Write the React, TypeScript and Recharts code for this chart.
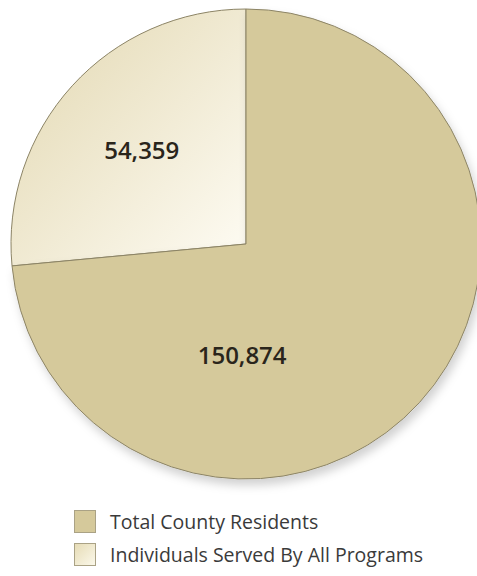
import React from "react"
import { PieChart, Pie, Cell, Legend } from "recharts"

const names = ["Individuals Served By All Programs", "Total County Residents"]
const values = [54359, 150874]
const legendOrder = [1, 0]

const data = names.map((name, i) => ({ name, value: values[i] }))

const MAIN = "#d5c99b"
const STROKE = "#8c8466"
const RADIAN = Math.PI / 180

const renderLabel = (props: any) => {
  const { cx, cy, outerRadius, midAngle, index, value } = props
  // small slice: along its mid angle; big slice: straight below the centre
  const angle = index === 0 ? midAngle : 268
  const dist = index === 0 ? outerRadius * 0.6 : outerRadius * 0.47
  const x = cx + dist * Math.cos(-angle * RADIAN)
  const y = cy + dist * Math.sin(-angle * RADIAN)
  return (
    <text
      x={x}
      y={y}
      textAnchor="middle"
      dominantBaseline="central"
      fill="#2a251b"
      fontSize={24}
      fontWeight={600}
      fontFamily="'Open Sans', sans-serif"
    >
      {value.toLocaleString("en-US")}
    </text>
  )
}

const renderLegend = () => (
  <div style={{ fontFamily: "'Open Sans', sans-serif" }}>
    {legendOrder.map((i) => (
      <div
        key={names[i]}
        style={{ display: "flex", alignItems: "center", height: 33 }}
      >
        <span
          style={{
            display: "inline-block",
            width: 22,
            height: 23,
            boxSizing: "border-box",
            border: "1px solid #aaa285",
            background:
              i === 1 ? MAIN : "linear-gradient(135deg, #e6dcb6, #fbf8ea)",
            marginRight: 14,
          }}
        />
        <span style={{ fontSize: 19.5, color: "#3a3a3a" }}>{names[i]}</span>
      </div>
    ))}
  </div>
)

export default function App() {
  return (
    <div
      style={{
        position: "absolute",
        left: 0,
        top: 0,
        width: 477,
        height: 576,
        background: "#ffffff",
        overflow: "hidden",
      }}
    >
      <PieChart
        width={477}
        height={576}
        margin={{ top: 0, right: 0, bottom: 0, left: 0 }}
      >
        <defs>
          <linearGradient id="lightGrad" x1="0" y1="0" x2="1" y2="1">
            <stop offset="0%" stopColor="#e2d7b0" />
            <stop offset="100%" stopColor="#fefcf4" />
          </linearGradient>
          <filter id="pieShadow" x="-10%" y="-10%" width="130%" height="130%">
            <feDropShadow dx="3" dy="6" stdDeviation="5" floodColor="#000" floodOpacity="0.18" />
          </filter>
        </defs>
        <Pie
          data={data}
          dataKey="value"
          nameKey="name"
          cx={246}
          cy={244}
          outerRadius={235}
          startAngle={90}
          endAngle={450}
          stroke={STROKE}
          strokeWidth={1}
          label={renderLabel}
          labelLine={false}
          isAnimationActive={false}
        >
          <Cell fill="url(#lightGrad)" />
          <Cell fill={MAIN} filter="url(#pieShadow)" />
        </Pie>
        <Legend
          content={renderLegend}
          wrapperStyle={{ position: "absolute", left: 74, top: 505, width: 400 }}
        />
      </PieChart>
    </div>
  )
}
